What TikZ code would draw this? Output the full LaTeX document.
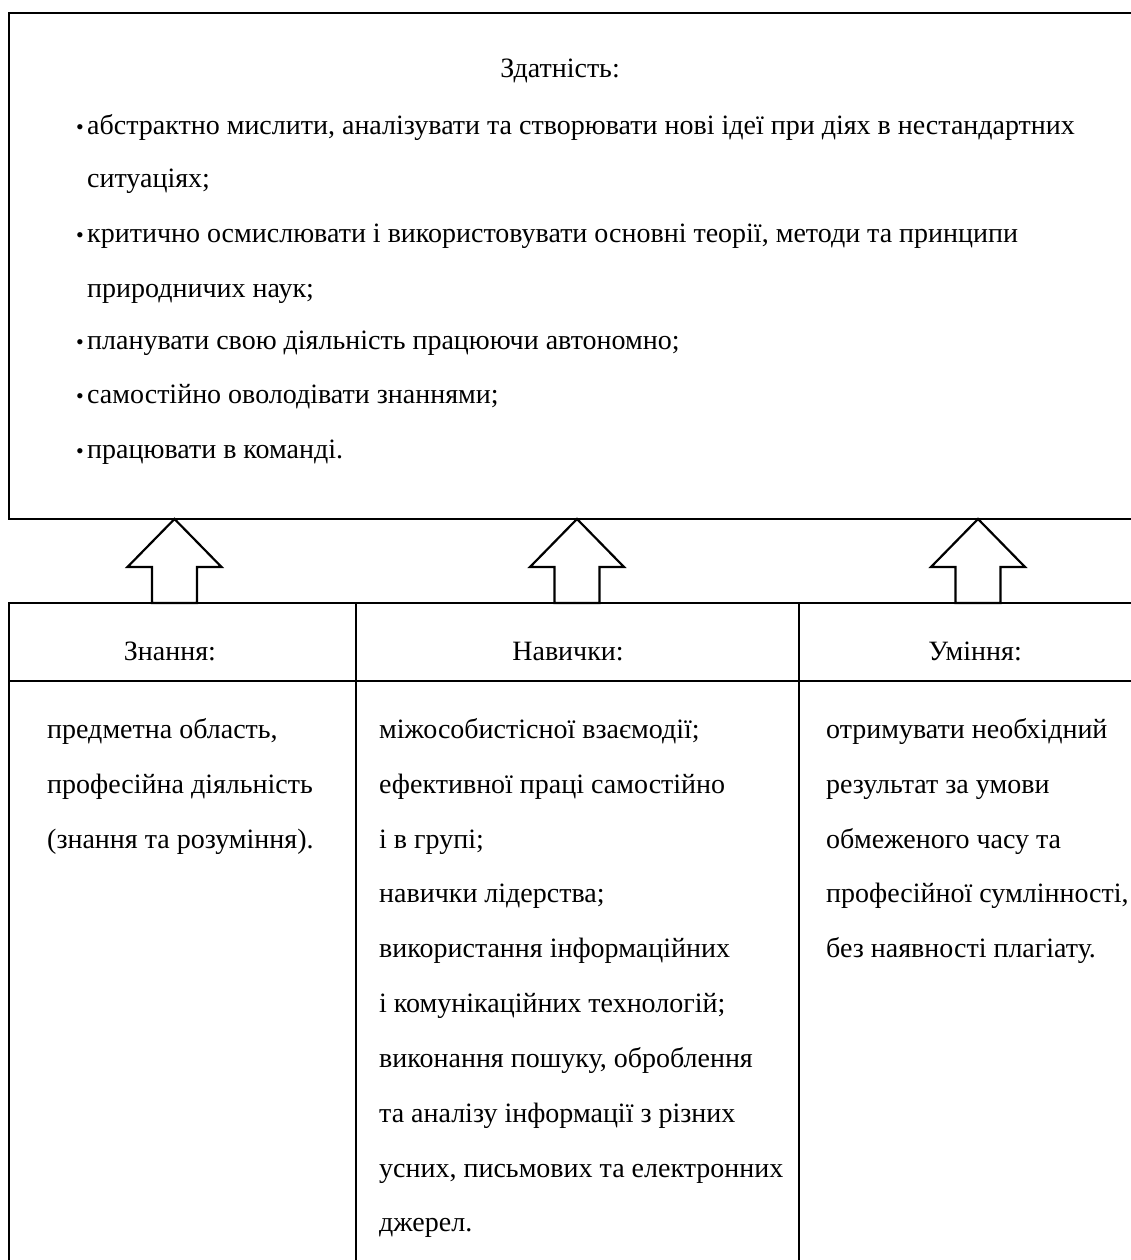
\documentclass[tikz,border=0pt]{standalone}
\usepackage{fontspec}
\setmainfont{Liberation Serif}
\begin{document}
\begin{tikzpicture}[x=1pt,y=-1pt,
  frame/.style={draw=black,line width=2.2pt,line join=miter},
  bigarrow/.style={draw=black,fill=white,line width=2.2pt,line join=miter},
  txt/.style={anchor=base west,inner sep=0pt,font=\fontsize{28}{32}\selectfont},
  ctxt/.style={anchor=base,inner sep=0pt,font=\fontsize{28}{32}\selectfont},
  dot/.style={anchor=base west,inner sep=0pt,font=\fontsize{22}{26}\selectfont}]
\useasboundingbox (0,0) rectangle (1131,1260);
\clip (0,0) rectangle (1131,1260);

% upper frame: abilities
\draw[frame] (1150,13) -- (9,13) -- (9,519) -- (1150,519);

% lower table: three columns
\draw[frame] (1150,603) -- (9,603) -- (9,1270);
\draw[frame] (9,681) -- (1150,681);
\draw[frame] (356,603) -- (356,1270);
\draw[frame] (799,603) -- (799,1270);

% hollow arrows from table up to the frame
\foreach \name/\cx in {a1/174.5, a2/577, a3/978}{
  \coordinate (\name-tip) at (\cx,519);
  \coordinate (\name-foot) at (\cx,603);
  \draw[bigarrow] (\name-tip) -- ++(47,48) -- ++(-24.5,0) |- (\cx-22.5,603)
     -- ++(0,-36) -- ++(-24.5,0) -- cycle;
}

% upper frame text
\node[ctxt] (ztitle) at (560,78) {Здатність:};
\node[dot] (b1) at (76,135) {•};
\node[txt] (l1) at (87,135) {абстрактно мислити, аналізувати та створювати нові ідеї при діях в нестандартних};
\node[txt] (l2) at (87,188) {ситуаціях;};
\node[dot] (b2) at (76,242) {•};
\node[txt] (l3) at (87,242) {критично осмислювати і використовувати основні теорії, методи та принципи};
\node[txt] (l4) at (87,297) {природничих наук;};
\node[dot] (b3) at (76,349) {•};
\node[txt] (l5) at (87,349) {планувати свою діяльність працюючи автономно;};
\node[dot] (b4) at (76,403) {•};
\node[txt] (l6) at (87,403) {самостійно оволодівати знаннями;};
\node[dot] (b5) at (76,458) {•};
\node[txt] (l7) at (87,458) {працювати в команді.};

% column headers
\node[ctxt] (h1) at (170,660) {Знання:};
\node[ctxt] (h2) at (568,660) {Навички:};
\node[ctxt] (h3) at (975,660) {Уміння:};

% column 1
\node[txt] (k1) at (47,738) {предметна область,};
\node[txt] (k2) at (47,793) {професійна діяльність};
\node[txt] (k3) at (47,848) {(знання та розуміння).};

% column 2
\node[txt] (s1) at (379,738) {міжособистісної взаємодії;};
\node[txt] (s2) at (379,793) {ефективної праці самостійно};
\node[txt] (s3) at (379,848) {і в групі;};
\node[txt] (s4) at (379,902) {навички лідерства;};
\node[txt] (s5) at (379,957) {використання інформаційних};
\node[txt] (s6) at (379,1012) {і комунікаційних технологій;};
\node[txt] (s7) at (379,1067) {виконання пошуку, оброблення};
\node[txt] (s8) at (379,1122) {та аналізу інформації з різних};
\node[txt] (s9) at (379,1177) {усних, письмових та електронних};
\node[txt] (s10) at (379,1231) {джерел.};

% column 3
\node[txt] (u1) at (826,738) {отримувати необхідний};
\node[txt] (u2) at (826,793) {результат за умови};
\node[txt] (u3) at (826,848) {обмеженого часу та};
\node[txt] (u4) at (826,902) {професійної сумлінності,};
\node[txt] (u5) at (826,957) {без наявності плагіату.};
\end{tikzpicture}
\end{document}
